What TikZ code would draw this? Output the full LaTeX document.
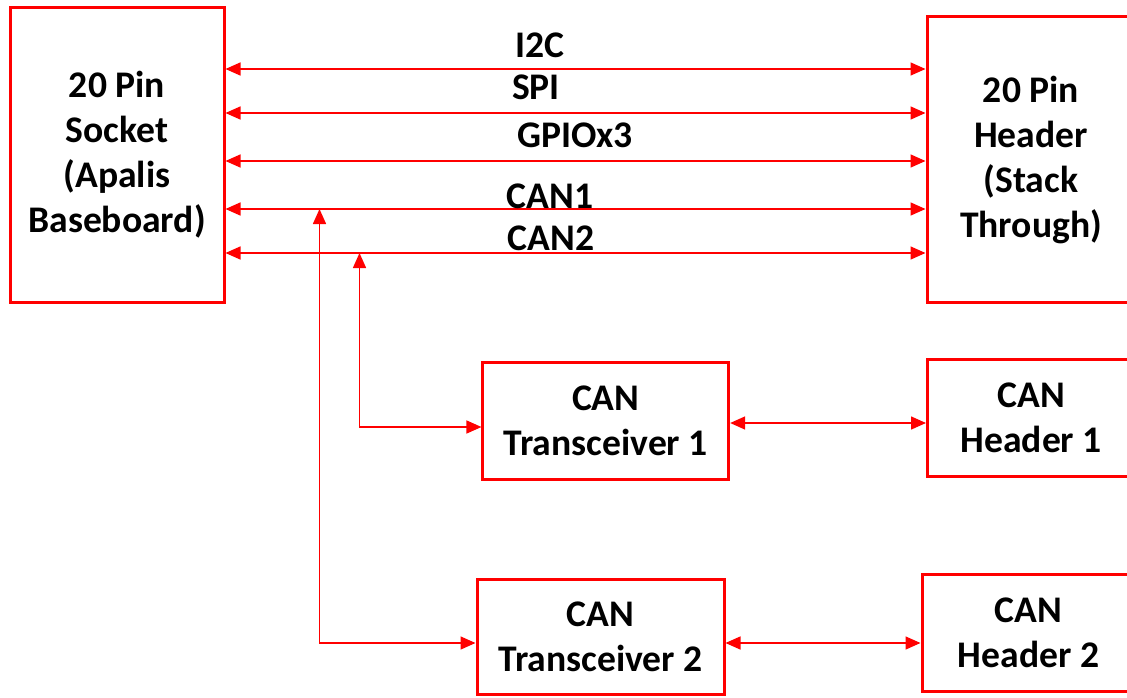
\documentclass[tikz,border=0pt]{standalone}
\usepackage{fontspec}
\setmainfont{Carlito}
\usetikzlibrary{arrows.meta}
\begin{document}
\begin{tikzpicture}[x=1pt,y=-1pt,
  blk/.style={draw=red, line width=3pt, inner sep=0pt, align=center,
    font=\fontsize{37.6}{45}\selectfont\bfseries, text=black},
  lbl/.style={inner sep=0pt, anchor=base, font=\fontsize{37.6}{45}\selectfont\bfseries, text=black},
  link/.style={draw=red, line width=1.5pt, {Triangle[length=15pt,width=13pt]}-{Triangle[length=15pt,width=13pt]}}
]
\useasboundingbox (0,0) rectangle (1127,698);
\fill[white] (0,0) rectangle (1127,698);

\node[blk, minimum width=214pt, minimum height=294pt] (sock) at (117,155)
  {20 Pin\\Socket\\(Apalis\\Baseboard)};
\node[blk, minimum width=208pt, minimum height=285pt] (hdr) at (1031,159.5)
  {20 Pin\\Header\\(Stack\\Through)};
\node[blk, minimum width=245.7pt, minimum height=116.7pt] (tr1) at (605.8,421.3)
  {CAN\\Transceiver 1};
\node[blk, minimum width=207.5pt, minimum height=116.7pt] (h1) at (1031.25,418.3)
  {CAN\\Header 1};
\node[blk, minimum width=247pt, minimum height=115.5pt] (tr2) at (600.5,637)
  {CAN\\Transceiver 2};
\node[blk, minimum width=213pt, minimum height=116.6pt] (h2) at (1028.5,633)
  {CAN\\Header 2};

% bus lines
\draw[link] (sock.east |- 0,69) -- (hdr.west |- 0,69);
\draw[link] (sock.east |- 0,113) -- (hdr.west |- 0,113);
\draw[link] (sock.east |- 0,161) -- (hdr.west |- 0,161);
\draw[link] (sock.east |- 0,209) -- (hdr.west |- 0,209);
\draw[link] (sock.east |- 0,253) -- (hdr.west |- 0,253);

\node[lbl] (li2c) at (540,58) {I2C};
\node[lbl] (lspi) at (536,100) {SPI};
\node[lbl] (lgpio) at (575,148) {GPIOx3};
\node[lbl] (lcan1) at (550,208) {CAN1};
\node[lbl] (lcan2) at (551,250) {CAN2};

% taps to transceivers
\coordinate (tap1) at (319.5,209);
\coordinate (tap2) at (359.5,253);
\draw[link] (tap2) |- (tr1.west |- 0,427);
\draw[link] (tap1) |- (tr2.west |- 0,643);

% transceivers to headers
\draw[link] (tr1.east |- 0,423) -- (h1.west |- 0,423);
\draw[link] (tr2.east |- 0,643) -- (h2.west |- 0,643);
\end{tikzpicture}
\end{document}
